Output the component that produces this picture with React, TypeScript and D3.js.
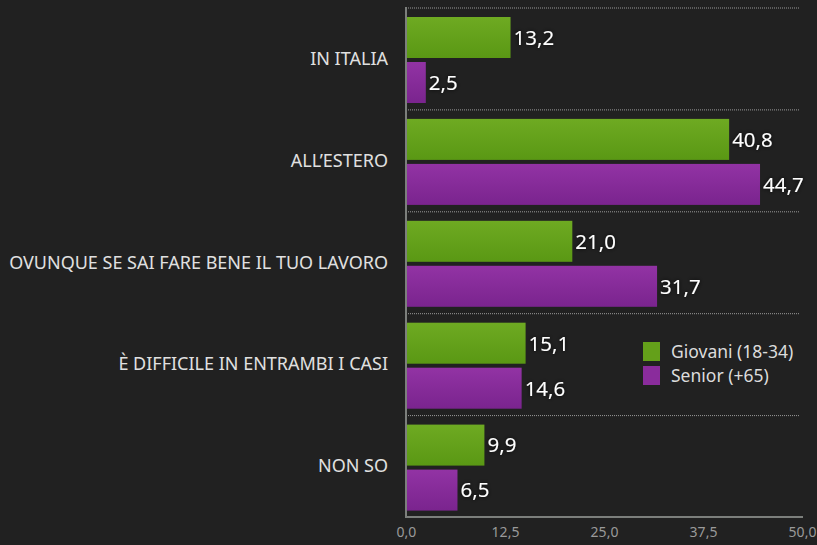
import { useEffect, useRef } from 'react';
import * as d3 from 'd3';

const categories = [
    'IN ITALIA',
    'ALL\u2019ESTERO',
    'OVUNQUE SE SAI FARE BENE IL TUO LAVORO',
    'È DIFFICILE IN ENTRAMBI I CASI',
    'NON SO',
];
const series = ['Giovani (18-34)', 'Senior (+65)'];
const giovani = [13.2, 40.8, 21.0, 15.1, 9.9];
const senior = [2.5, 44.7, 31.7, 14.6, 6.5];
const xTicks = [0, 12.5, 25, 37.5, 50];

const fmt = (v: number) => v.toFixed(1).replace('.', ',');

export default function App() {
    const svgRef = useRef<SVGSVGElement>(null);

    useEffect(() => {
        const svg = d3.select(svgRef.current);
        svg.selectAll('*').remove();

        const W = 817;
        const H = 545;
        const font = '"Noto Sans", "Open Sans", sans-serif';

        svg.attr('width', W).attr('height', H);
        svg.append('rect').attr('width', W).attr('height', H).attr('fill', '#212121');

        const defs = svg.append('defs');
        const grads = [
            { id: 'gGreen', top: '#6eaa22', bottom: '#5a9814' },
            { id: 'gPurple', top: '#9233a4', bottom: '#7a248e' },
        ];
        grads.forEach((gr) => {
            const lg = defs.append('linearGradient').attr('id', gr.id).attr('x1', 0).attr('y1', 0).attr('x2', 0).attr('y2', 1);
            lg.append('stop').attr('offset', '0%').attr('stop-color', gr.top);
            lg.append('stop').attr('offset', '100%').attr('stop-color', gr.bottom);
        });
        const shadow = defs.append('filter').attr('id', 'txtShadow').attr('x', '-20%').attr('y', '-20%').attr('width', '140%').attr('height', '140%');
        shadow.append('feDropShadow').attr('dx', 0).attr('dy', 0).attr('stdDeviation', 2).attr('flood-color', '#000').attr('flood-opacity', 0.8);

        // Scales
        const x = d3.scaleLinear().domain([0, 50]).range([406, 802]);
        const y = d3.scaleBand().domain(categories).range([7.5, 517]);
        const yInner = d3.scaleBand().domain(series).range([9.5, 95.5]).paddingInner(0.089);
        const color = d3.scaleOrdinal<string>().domain(series).range(['url(#gGreen)', 'url(#gPurple)']);
        const legendColor = d3.scaleOrdinal<string>().domain(series).range(['#64a01a', '#8a2c9c']);

        // Dotted gridlines at band boundaries
        const bounds = categories.map((c) => y(c) as number);
        svg.append('g')
            .selectAll('line')
            .data(bounds)
            .enter()
            .append('line')
            .attr('x1', x(0))
            .attr('x2', 799)
            .attr('y1', (d) => d + 0.5)
            .attr('y2', (d) => d + 0.5)
            .attr('stroke', '#9a9a9a')
            .attr('stroke-width', 1)
            .attr('stroke-dasharray', '1,1');

        // Bottom axis
        const xAxis = svg.append('g')
            .attr('transform', `translate(0,517)`)
            .call(d3.axisBottom(x).tickValues(xTicks).tickSize(0).tickPadding(10).tickFormat((d) => fmt(d as number)));
        xAxis.select('.domain').attr('stroke', '#7c7f7c').attr('stroke-width', 2).attr('d', `M${x(0)},0H803`);
        xAxis.selectAll('text')
            .attr('fill', '#9a9a9a')
            .style('font-family', font)
            .style('font-size', '14px');

        // Left axis line
        svg.append('line')
            .attr('x1', x(0))
            .attr('x2', x(0))
            .attr('y1', 7)
            .attr('y2', 518)
            .attr('stroke', '#7c7f7c')
            .attr('stroke-width', 2);

        // Category labels
        svg.append('g')
            .selectAll('text')
            .data(categories)
            .enter()
            .append('text')
            .attr('x', 388)
            .attr('y', (d) => (y(d) as number) + y.bandwidth() / 2)
            .attr('dy', '0.35em')
            .attr('text-anchor', 'end')
            .attr('fill', '#e0e0e0')
            .style('font-family', font)
            .style('font-size', '18px')
            .text((d) => d);

        // Bars
        const rows = categories.map((c, i) => ({ category: c, values: [giovani[i], senior[i]] }));
        const groups = svg.append('g')
            .selectAll('g')
            .data(rows)
            .enter()
            .append('g')
            .attr('transform', (d) => `translate(0,${y(d.category)})`);

        groups.selectAll('rect')
            .data((d) => d.values.map((v, j) => ({ key: series[j], value: v })))
            .enter()
            .append('rect')
            .attr('x', x(0) + 1)
            .attr('y', (d) => yInner(d.key) as number)
            .attr('width', (d) => x(d.value) - x(0) - 1)
            .attr('height', yInner.bandwidth())
            .attr('fill', (d) => color(d.key));

        groups.selectAll('text')
            .data((d) => d.values.map((v, j) => ({ key: series[j], value: v })))
            .enter()
            .append('text')
            .attr('x', (d) => x(d.value) + 3)
            .attr('y', (d) => (yInner(d.key) as number) + yInner.bandwidth() / 2)
            .attr('dy', '0.36em')
            .attr('fill', '#ffffff')
            .attr('filter', 'url(#txtShadow)')
            .style('font-family', font)
            .style('font-size', '20.5px')
            .text((d) => fmt(d.value));

        // Legend
        const legend = svg.append('g').attr('transform', 'translate(643,342)');
        series.forEach((s, i) => {
            const row = legend.append('g').attr('transform', `translate(0,${i * 24})`);
            row.append('rect').attr('width', 17).attr('height', 19).attr('fill', legendColor(s));
            row.append('text')
                .attr('x', 28)
                .attr('y', 16)
                .attr('fill', '#dcdcdc')
                .style('font-family', font)
                .style('font-size', '17.5px')
                .text(s);
        });
    }, []);

    return (
        <div style={{ position: 'absolute', left: 0, top: 0 }}>
            <svg ref={svgRef} style={{ display: 'block' }}></svg>
        </div>
    );
}
